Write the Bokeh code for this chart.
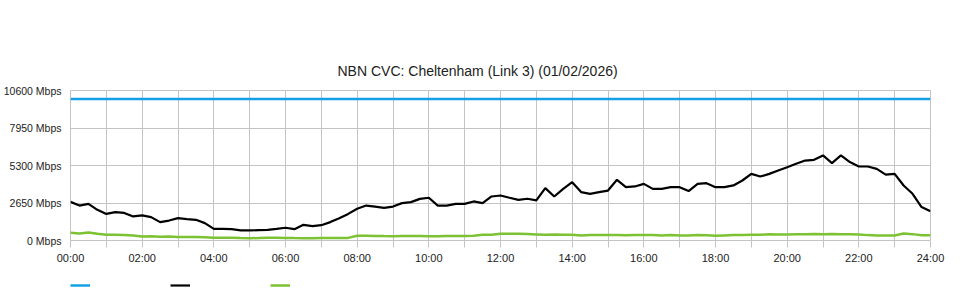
from bokeh.plotting import figure
from bokeh.layouts import column
from bokeh.models import (FixedTicker, Legend, LegendItem, ColumnDataSource)
from bokeh.core.properties import value
from bokeh.embed import file_html
from bokeh.resources import INLINE

# ---------------- data ----------------
title_text = "NBN CVC: Cheltenham (Link 3) (01/02/2026)"

# sample times in hours (15-minute steps, 00:00 .. 24:00)
hours = [i / 4 for i in range(97)]

capacity_mbps = [10000] * 97

download_mbps = [
    2730, 2470, 2590, 2170, 1880, 2000, 1950, 1700,   # 00:00-01:45
    1770, 1650, 1300, 1410, 1580, 1510, 1460, 1230,   # 02:00-03:45
    820, 820, 800, 710, 710, 730, 750, 820,           # 04:00-05:45
    900, 800, 1110, 1010, 1080, 1300, 1580, 1880,     # 06:00-07:45
    2240, 2470, 2400, 2310, 2400, 2640, 2710, 2940,   # 08:00-09:45
    3020, 2470, 2470, 2590, 2590, 2760, 2640, 3110,   # 10:00-11:45
    3180, 3020, 2870, 2950, 2830, 3700, 3110, 3650,   # 12:00-13:45
    4120, 3420, 3300, 3420, 3530, 4290, 3770, 3820,   # 14:00-15:45
    4000, 3650, 3650, 3770, 3770, 3490, 4000, 4050,   # 16:00-17:45
    3770, 3770, 3890, 4240, 4710, 4520, 4710, 4950,   # 18:00-19:45
    5180, 5420, 5650, 5700, 6010, 5470, 6010, 5540,   # 20:00-21:45
    5230, 5230, 5060, 4660, 4710, 3890, 3300, 2360,   # 22:00-23:45
    2070,                                             # 24:00
]

upload_mbps = [
    540, 500, 560, 470, 400, 410, 380, 350,           # 00:00-01:45
    290, 300, 270, 280, 240, 250, 240, 230,           # 02:00-03:45
    190, 190, 200, 170, 165, 170, 190, 190,           # 04:00-05:45
    185, 170, 160, 160, 185, 170, 175, 185,           # 06:00-07:45
    330, 330, 320, 310, 305, 310, 310, 310,           # 08:00-09:45
    305, 300, 310, 320, 310, 330, 410, 400,           # 10:00-11:45
    470, 480, 470, 460, 430, 400, 420, 410,           # 12:00-13:45
    400, 360, 380, 390, 380, 380, 370, 380,           # 14:00-15:45
    390, 380, 360, 380, 350, 360, 380, 370,           # 16:00-17:45
    330, 360, 390, 380, 400, 400, 440, 420,           # 18:00-19:45
    430, 450, 450, 460, 450, 460, 450, 440,           # 20:00-21:45
    430, 380, 360, 350, 360, 500, 450, 370,           # 22:00-23:45
    370,                                              # 24:00
]

y_ticks = [0, 2650, 5300, 7950, 10600]
y_tick_labels = ["0 Mbps", "2650 Mbps", "5300 Mbps", "7950 Mbps", "10600 Mbps"]
x_major = [0, 2, 4, 6, 8, 10, 12, 14, 16, 18, 20, 22, 24]
x_tick_labels = ["00:00", "02:00", "04:00", "06:00", "08:00", "10:00", "12:00",
                 "14:00", "16:00", "18:00", "20:00", "22:00", "24:00"]
x_minor = [1, 3, 5, 7, 9, 11, 13, 15, 17, 19, 21, 23]

series_cols = ["cap", "down", "up"]
series_colors = ["#14a0e6", "#000000", "#7cc233"]
series_widths = [2.5, 2.2, 2.5]

# ---------------- main chart ----------------
FONT = "Liberation Sans"
GRID = "#c4c4c4"

p = figure(width=960, height=270, output_backend="svg", toolbar_location=None,
           x_range=(0, 24), y_range=(0, 10600),
           min_border_left=70, min_border_right=30, min_border_top=90,
           min_border_bottom=30)

p.title.text = title_text
p.title.align = "left"
p.title.offset = 267
p.title.text_font = FONT
p.title.text_font_size = "14px"
p.title.text_font_style = "normal"
p.title.text_color = "#222222"
p.title.standoff = 24

p.background_fill_color = "white"
p.border_fill_color = "white"
p.outline_line_color = GRID

src = ColumnDataSource(dict(h=hours, cap=capacity_mbps, down=download_mbps, up=upload_mbps))
for col, c, w in zip(series_cols, series_colors, series_widths):
    p.line("h", col, source=src, line_color=c, line_width=w)

p.xaxis.ticker = FixedTicker(ticks=x_major, minor_ticks=x_minor)
p.xaxis.major_label_overrides = dict(zip(x_major, x_tick_labels))
p.xaxis.axis_line_color = None
p.xaxis.major_tick_line_color = GRID
p.xaxis.minor_tick_line_color = GRID
p.xaxis.major_tick_out = 7
p.xaxis.major_tick_in = 0
p.xaxis.minor_tick_out = 7
p.xaxis.minor_tick_in = 0
p.xaxis.major_label_standoff = 4
p.xaxis.major_label_text_font = FONT
p.xaxis.major_label_text_font_size = "11px"
p.xaxis.major_label_text_color = "#222222"

p.yaxis.ticker = FixedTicker(ticks=y_ticks)
p.yaxis.major_label_overrides = dict(zip(y_ticks, y_tick_labels))
p.yaxis.axis_line_color = None
p.yaxis.major_tick_line_color = None
p.yaxis.minor_tick_line_color = None
p.yaxis.major_tick_out = 0
p.yaxis.major_tick_in = 0
p.yaxis.major_label_standoff = 9
p.yaxis.major_label_text_font = FONT
p.yaxis.major_label_text_font_size = "10.5px"
p.yaxis.major_label_text_color = "#222222"

p.xgrid.grid_line_color = GRID
p.xgrid.minor_grid_line_color = GRID
p.ygrid.grid_line_color = GRID

# ---------------- legend strip (unlabelled swatches) ----------------
lg = figure(width=960, height=30, output_backend="svg", toolbar_location=None,
            x_axis_type=None, y_axis_type=None, x_range=(0, 24), y_range=(-20000, -10000),
            min_border=0)
lg.grid.visible = False
lg.outline_line_color = None
lg.background_fill_color = "white"
lg.border_fill_color = "white"

items = []
for col, c, w in zip(series_cols, series_colors, series_widths):
    r = lg.line("h", col, source=src, line_color=c, line_width=w)  # out of view; legend proxy
    items.append(LegendItem(label=value(" "), renderers=[r]))

legend = Legend(items=items, orientation="horizontal", location=(0, 10),
                glyph_width=20, glyph_height=10, label_width=80, label_height=10,
                label_standoff=0, spacing=0, padding=0, margin=0,
                border_line_color=None, background_fill_alpha=0,
                label_text_font_size="7px")
lg.add_layout(legend)

layout = column(p, lg, spacing=0)
open("out.html", "w").write(file_html(layout, INLINE))
